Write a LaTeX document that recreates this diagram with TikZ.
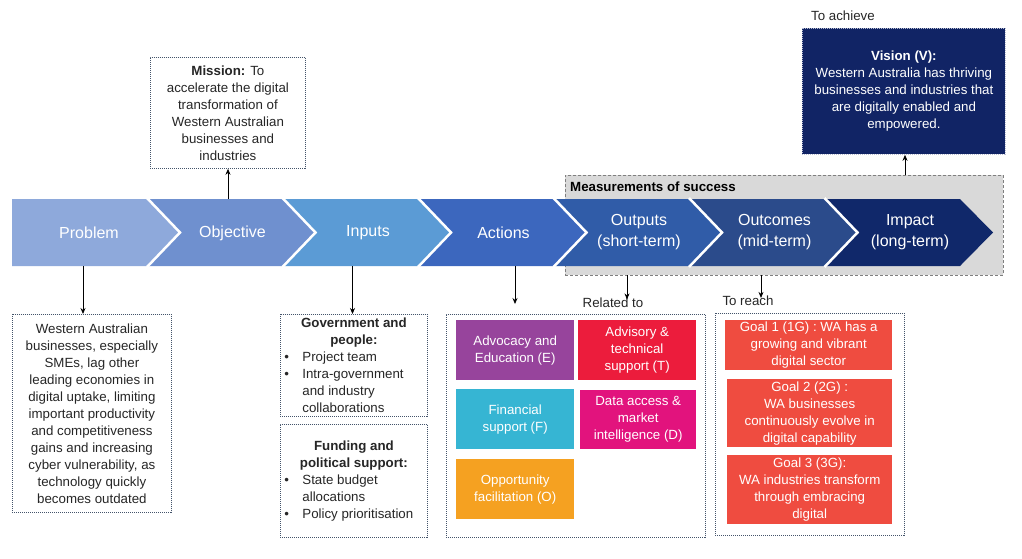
\documentclass[tikz,border=0pt]{standalone}
\usepackage{fontspec}
\setmainfont{Liberation Sans}
\usetikzlibrary{arrows.meta}
\definecolor{txtc}{HTML}{262626}
\definecolor{boxc}{HTML}{44546A}
\definecolor{cA}{HTML}{8EA9DB}
\definecolor{cB}{HTML}{6F90CF}
\definecolor{cC}{HTML}{5B9BD5}
\definecolor{cD}{HTML}{3C67BE}
\definecolor{cEo}{HTML}{305CA8}
\definecolor{cF}{HTML}{2B4B8B}
\definecolor{cG}{HTML}{10286A}
\definecolor{visc}{HTML}{112465}
\definecolor{grayf}{HTML}{D9D9D9}
\definecolor{grayb}{HTML}{7F7F7F}
\definecolor{pE}{HTML}{97449C}
\definecolor{pT}{HTML}{EC1C3C}
\definecolor{pF}{HTML}{36B5D3}
\definecolor{pD}{HTML}{E2137D}
\definecolor{pO}{HTML}{F5A121}
\definecolor{goalc}{HTML}{EF4C40}
\newcommand\bitem[1]{\par\noindent\llap{\makebox[18pt][l]{\textbullet}}#1}
\begin{document}
\begin{tikzpicture}[x=1pt,y=-1pt,
  txt/.style={font=\fontsize{13.3}{17}\selectfont, text=txtc, align=center, inner sep=0pt},
  dbox/.style={draw=boxc, dash pattern=on 1pt off 1pt, line width=0.8pt},
  arr/.style={-{Stealth[length=6pt,width=5pt]}, line width=0.8pt, black},
  chevlabel/.style={font=\fontsize{16}{21}\selectfont, text=white, align=center, inner sep=0pt},
  colbox/.style={txt, text=white, anchor=north west},
  sepline/.style={draw=white, line width=2.5pt}]
\useasboundingbox (0,0) rectangle (1022,558);

% measurements of success background
\node[fill=grayf, draw=grayb, dash pattern=on 3pt off 2pt, line width=0.8pt,
  minimum width=438pt, minimum height=100pt, anchor=north west, inner sep=0pt] (meas) at (565,175) {};
\node[txt, anchor=west, text=black, font=\fontsize{13.3}{17}\selectfont\bfseries] (meastxt) at (570,187) {Measurements of success};

% chevrons
\fill[cA] (12,199)--(147,199)--(180,232.5)--(147,266)--(12,266)--cycle;
\fill[cB] (147,199)--(282.5,199)--(315.5,232.5)--(282.5,266)--(147,266)--(180,232.5)--cycle;
\fill[cC] (282.5,199)--(418,199)--(451,232.5)--(418,266)--(282.5,266)--(315.5,232.5)--cycle;
\fill[cD] (418,199)--(553.5,199)--(586.5,232.5)--(553.5,266)--(418,266)--(451,232.5)--cycle;
\fill[cEo] (553.5,199)--(689,199)--(722,232.5)--(689,266)--(553.5,266)--(586.5,232.5)--cycle;
\fill[cF] (689,199)--(824.5,199)--(857.5,232.5)--(824.5,266)--(689,266)--(722,232.5)--cycle;
\fill[cG] (824.5,199)--(960,199)--(993,232.5)--(960,266)--(824.5,266)--(857.5,232.5)--cycle;
\foreach \t in {180,315.5,451,586.5,722,857.5}{
  \draw[sepline] (\t-33,198)--(\t,232.5)--(\t-33,267);
}
\node[chevlabel] (lprob) at (89,232.5) {Problem};
\node[chevlabel] (lobj) at (232.5,233.5) {Objective};
\node[chevlabel] (linp) at (368,233) {Inputs};
\node[chevlabel] (lact) at (503.5,233) {Actions};
\node[chevlabel] (lout) at (639,232.5) {Outputs\\(short-term)};
\node[chevlabel] (loutc) at (774.5,232.5) {Outcomes\\(mid-term)};
\node[chevlabel] (limp) at (910,232.5) {Impact\\(long-term)};

\coordinate (probb) at (83,266);
\coordinate (objt) at (228,199);
\coordinate (inpb) at (352.5,266);
\coordinate (actb) at (515,266);
\coordinate (outb) at (627,275);
\coordinate (outcb) at (761,275);
\coordinate (meast) at (905,175);

% mission
\node[dbox, txt, minimum width=155pt, minimum height=111pt, anchor=north west] (mission) at (150,57)
  {\textbf{Mission:} To\\accelerate the digital\\transformation of\\Western Australian\\businesses and\\industries};
\draw[arr] (objt) -- (mission.south -| objt);

% vision
\node[txt, anchor=west] (toach) at (811,16) {To achieve};
\node[txt, text=white, fill=visc, draw=white!70!visc, dash pattern=on 1pt off 1pt, line width=0.8pt,
  minimum width=203pt, minimum height=126pt, anchor=north west] (vision) at (802,28)
  {\textbf{Vision (V):}\\Western Australia has thriving\\businesses and industries that\\are digitally enabled and\\empowered.};
\draw[arr] (meast) -- (vision.south -| meast);

% problem
\node[dbox, txt, minimum width=159pt, minimum height=198pt, anchor=north west] (probbox) at (12,314)
  {Western Australian\\businesses, especially\\SMEs, lag other\\leading economies in\\digital uptake, limiting\\important productivity\\and competitiveness\\gains and increasing\\cyber vulnerability, as\\technology quickly\\becomes outdated};
\draw[arr] (probb) -- (probbox.north -| probb);

% inputs
\node[dbox, txt, minimum width=147pt, minimum height=102pt, anchor=north west] (gov) at (280,314)
  {\parbox{147pt}{\centering\bfseries Government and\\people:\par
   \raggedright\mdseries\leftskip=22pt
   \bitem{Project team}
   \bitem{Intra-government\\and industry\\collaborations}\par}};
\node[dbox, txt, minimum width=147pt, minimum height=113pt, anchor=north west] (fund) at (280,424)
  {\parbox{147pt}{\centering\bfseries Funding and\\political support:\par
   \raggedright\mdseries\leftskip=22pt
   \bitem{State budget\\allocations}
   \bitem{Policy prioritisation}\par}};
\draw[arr] (inpb) -- (gov.north -| inpb);

% actions
\node[dbox, minimum width=259pt, minimum height=223pt, anchor=north west, inner sep=0pt] (actbox) at (446,314) {};
\coordinate (actend) at (515,304);
\draw[arr] (actb) -- (actend);
\node[colbox, fill=pE, minimum width=118pt, minimum height=60pt] (bE) at (456,320) {Advocacy and\\Education (E)};
\node[colbox, fill=pT, minimum width=118pt, minimum height=60pt] (bT) at (578,320) {Advisory \&\\technical\\support (T)};
\node[colbox, fill=pF, minimum width=118pt, minimum height=60pt] (bF) at (456,389) {Financial\\support (F)};
\node[colbox, fill=pD, minimum width=116pt, minimum height=59pt] (bD) at (580,390) {Data access \&\\market\\intelligence (D)};
\node[colbox, fill=pO, minimum width=118pt, minimum height=60pt] (bO) at (456,459) {Opportunity\\facilitation (O)};

\node[txt] (relto) at (613,302.5) {Related to};
\draw[arr] (outb) -- ([yshift=-2pt]relto.north -| outb);

% goals
\node[txt] (toreach) at (748,301) {To reach};
\draw[arr] (outcb) -- ([yshift=-2pt]toreach.north -| outcb);
\node[dbox, minimum width=189pt, minimum height=222pt, anchor=north west, inner sep=0pt] (goalbox) at (715,313) {};
\node[colbox, fill=goalc, minimum width=167pt, minimum height=50pt] (g1) at (725,320) {Goal 1 (1G) : WA has a\\growing and vibrant\\digital sector};
\node[colbox, fill=goalc, minimum width=165pt, minimum height=68pt] (g2) at (727,379) {Goal 2 (2G) :\\WA businesses\\continuously evolve in\\digital capability};
\node[colbox, fill=goalc, minimum width=165pt, minimum height=69pt] (g3) at (727,455) {Goal 3 (3G):\\WA industries transform\\through embracing\\digital};
\end{tikzpicture}
\end{document}
